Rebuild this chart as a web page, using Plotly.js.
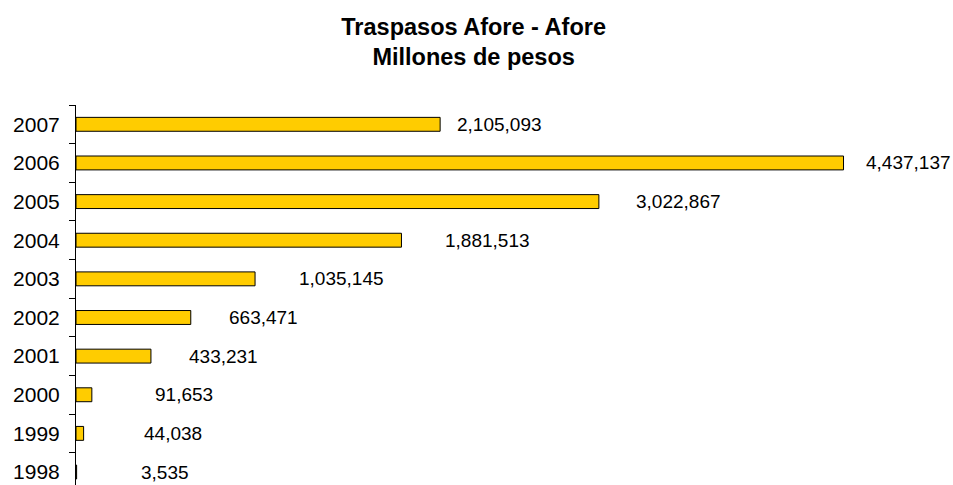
<!DOCTYPE html>
<html><head><meta charset="utf-8">
<script src="https://cdn.plot.ly/plotly-3.0.1.min.js"></script>
<style>html,body{margin:0;padding:0;overflow:hidden;background:#fff}</style>
</head><body><div id="chart" style="width:953px;height:485px"></div>
<script>
const years = ['1998','1999','2000','2001','2002','2003','2004','2005','2006','2007'];
const values = [3535, 44038, 91653, 433231, 663471, 1035145, 1881513, 3022867, 4437137, 2105093];
const labelShift = [62, 58, 61, 36, 36, 42, 42, 35, 20, 15];

const fmt = v => v.toLocaleString('en-US');
const annotations = years.map((y, i) => ({
  x: values[i], y: i, xref: 'x', yref: 'y', text: fmt(values[i]),
  showarrow: false, xanchor: 'left', yanchor: 'middle', xshift: labelShift[i],
  font: {family: 'Liberation Sans, Arial, sans-serif', size: 19, color: '#000'}
}));

Plotly.newPlot('chart', [{
  type: 'bar', orientation: 'h', x: values, y: years, width: 0.36,
  marker: {color: '#FFCC00', line: {color: '#000', width: 1}},
  hoverinfo: 'none'
}], {
  width: 953, height: 485,
  margin: {l: 76, r: 0, t: 105, b: 0},
  paper_bgcolor: '#fff', plot_bgcolor: '#fff',
  title: {text: '<b>Traspasos Afore - Afore</b><br><b>Millones de pesos</b>', x: 0.497, xanchor: 'center', yref: 'container', y: 0.928, yanchor: 'top',
    font: {family: 'Liberation Sans, Arial, sans-serif', size: 23.5, color: '#000'}},
  xaxis: {range: [0, 5070000], visible: false, fixedrange: true},
  yaxis: {type: 'category', range: [-0.336, 9.5], showline: true, linecolor: '#000', linewidth: 1,
    ticks: 'outside', tickson: 'boundaries', ticklen: 6, tickcolor: '#000', showgrid: false,
    tickfont: {family: 'Liberation Sans, Arial, sans-serif', size: 21, color: '#000'}, ticklabelstandoff: 11},
  annotations: annotations,
  showlegend: false
}, {displayModeBar: false, staticPlot: true});
</script></body></html>
